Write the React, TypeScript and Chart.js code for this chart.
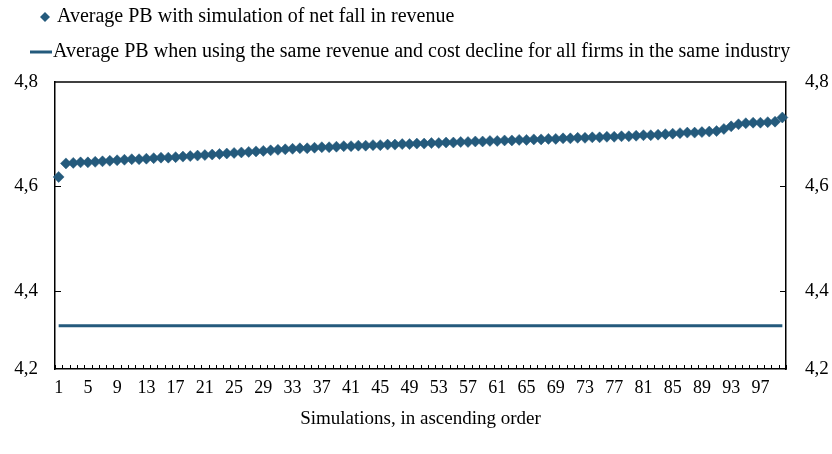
import { useEffect, useRef } from 'react';
import { Chart, registerables } from 'chart.js';

Chart.register(...registerables);

const categories: string[] = Array.from({ length: 100 }, (_, i) => String(i + 1));

const netFallSeries: number[] = [
  4.618, 4.644, 4.645, 4.646, 4.646, 4.647, 4.648, 4.649, 4.650, 4.651,
  4.652, 4.652, 4.653, 4.654, 4.655, 4.655, 4.656, 4.657, 4.658, 4.659,
  4.660, 4.661, 4.662, 4.663, 4.664, 4.665, 4.666, 4.667, 4.668, 4.669,
  4.670, 4.671, 4.672, 4.673, 4.673, 4.674, 4.675, 4.675, 4.676, 4.677,
  4.677, 4.678, 4.678, 4.679, 4.679, 4.680, 4.680, 4.681, 4.681, 4.682,
  4.682, 4.683, 4.683, 4.684, 4.684, 4.685, 4.685, 4.686, 4.686, 4.687,
  4.687, 4.688, 4.688, 4.689, 4.689, 4.690, 4.690, 4.691, 4.691, 4.692,
  4.692, 4.693, 4.693, 4.694, 4.694, 4.695, 4.695, 4.696, 4.696, 4.697,
  4.698, 4.698, 4.699, 4.700, 4.701, 4.702, 4.703, 4.703, 4.704, 4.705,
  4.706, 4.710, 4.715, 4.719, 4.721, 4.722, 4.722, 4.723, 4.724, 4.732,
];

const sameDeclineValue = 4.333;
const sameDeclineSeries: number[] = categories.map(() => sameDeclineValue);

const yTickValues: number[] = [4.25, 4.4, 4.6, 4.8];
const yTickLabels: string[] = ['4,2', '4,4', '4,6', '4,8'];
const yMin = 4.25;
const yMax = 4.8;
const yInnerTickValues: number[] = [4.4, 4.6];

const seriesLabels: string[] = [
  'Average PB with simulation of net fall in revenue',
  'Average PB when using the same revenue and cost decline for all firms in the same industry',
];
const xTitle = 'Simulations, in ascending order';

const SERIES_COLOR = '#245a7c';
const FONT = '"Liberation Serif", "Times New Roman", serif';

const decorPlugin = {
  id: 'decor',
  afterDraw(chart: any) {
    const { ctx, chartArea } = chart;
    const xs = chart.scales.x;
    const ys = chart.scales.y;
    ctx.save();
    // frame top
    ctx.strokeStyle = '#000';
    ctx.lineWidth = 1.5;
    ctx.beginPath();
    ctx.moveTo(chartArea.left, chartArea.top);
    ctx.lineTo(chartArea.right, chartArea.top);
    ctx.stroke();
    // x inner tick marks at category boundaries
    ctx.lineWidth = 1;
    const step = xs.getPixelForValue(1) - xs.getPixelForValue(0);
    for (let i = 0; i <= categories.length; i++) {
      const x = Math.round(xs.getPixelForValue(i) - step / 2) + 0.5;
      ctx.beginPath();
      ctx.moveTo(x, chartArea.bottom);
      ctx.lineTo(x, chartArea.bottom - 4);
      ctx.stroke();
    }
    // y inner tick marks
    for (const v of yInnerTickValues) {
      const y = Math.round(ys.getPixelForValue(v)) + 0.5;
      ctx.beginPath();
      ctx.moveTo(chartArea.left, y);
      ctx.lineTo(chartArea.left + 6, y);
      ctx.moveTo(chartArea.right, y);
      ctx.lineTo(chartArea.right - 6, y);
      ctx.stroke();
    }
    // legend
    ctx.font = `20px ${FONT}`;
    ctx.fillStyle = '#000';
    ctx.textBaseline = 'middle';
    ctx.textAlign = 'left';
    const r1 = 17;
    const r2 = 52;
    ctx.fillStyle = SERIES_COLOR;
    ctx.beginPath();
    ctx.moveTo(45, r1 - 5);
    ctx.lineTo(50, r1);
    ctx.lineTo(45, r1 + 5);
    ctx.lineTo(40, r1);
    ctx.closePath();
    ctx.fill();
    ctx.fillStyle = '#000';
    ctx.fillText(chart.data.datasets[0].label, 57, r1);
    ctx.strokeStyle = SERIES_COLOR;
    ctx.lineWidth = 3;
    ctx.beginPath();
    ctx.moveTo(30, r2);
    ctx.lineTo(52, r2);
    ctx.stroke();
    ctx.fillText(chart.data.datasets[1].label, 53, r2);
    ctx.restore();
  },
};

const yTicks = {
  color: '#000',
  font: { family: FONT, size: 19 },
  callback: (v: number) => {
    const idx = yTickValues.findIndex((t) => Math.abs(t - v) < 1e-9);
    return idx >= 0 ? yTickLabels[idx] : '';
  },
};

export default function App() {
  const ref = useRef<HTMLCanvasElement | null>(null);
  useEffect(() => {
    if (!ref.current) return;
    const chart = new Chart(ref.current, {
      type: 'line',
      data: {
        labels: categories,
        datasets: [
          {
            label: seriesLabels[0],
            data: netFallSeries,
            showLine: false,
            pointStyle: 'rectRot',
            pointRadius: 5.5,
            pointBackgroundColor: SERIES_COLOR,
            pointBorderColor: SERIES_COLOR,
            pointBorderWidth: 0.5,
            borderColor: SERIES_COLOR,
            backgroundColor: SERIES_COLOR,
            yAxisID: 'y',
          },
          {
            label: seriesLabels[1],
            data: sameDeclineSeries,
            borderColor: SERIES_COLOR,
            backgroundColor: SERIES_COLOR,
            borderWidth: 3,
            pointRadius: 0,
            yAxisID: 'y',
          },
        ],
      },
      options: {
        responsive: false,
        animation: false,
        layout: { padding: { top: 82, left: 0, right: 0, bottom: 0 } },
        plugins: {
          legend: { display: false },
          tooltip: { enabled: false },
          title: { display: false },
        },
        scales: {
          x: {
            type: 'category',
            offset: true,
            grid: { display: false, drawTicks: false, offset: true },
            border: { display: true, color: '#000', width: 1.5 },
            ticks: {
              autoSkip: false,
              maxRotation: 0,
              padding: 8,
              color: '#000',
              font: { family: FONT, size: 18 },
              callback: (_v: any, i: number) => (i % 4 === 0 ? categories[i] : ''),
            },
            title: {
              display: true,
              text: xTitle,
              color: '#000',
              font: { family: FONT, size: 19 },
              padding: { top: 0, bottom: 24 },
            },
            afterFit: (s: any) => { s.height = 85; },
          },
          y: {
            type: 'linear',
            position: 'left',
            min: yMin,
            max: yMax,
            grid: { display: false, drawTicks: false },
            border: { display: true, color: '#000', width: 1.5 },
            ticks: { ...yTicks, padding: 17 },
            afterBuildTicks: (s: any) => { s.ticks = yTickValues.map((value) => ({ value })); },
            afterFit: (s: any) => { s.width = 55; },
          },
          y2: {
            type: 'linear',
            position: 'right',
            min: yMin,
            max: yMax,
            grid: { display: false, drawTicks: false },
            border: { display: true, color: '#000', width: 1.5 },
            ticks: { ...yTicks, padding: 19 },
            afterBuildTicks: (s: any) => { s.ticks = yTickValues.map((value) => ({ value })); },
            afterFit: (s: any) => { s.width = 46; },
          },
        },
      },
      plugins: [decorPlugin],
    });
    return () => chart.destroy();
  }, []);
  return (
    <div style={{ position: 'absolute', left: 0, top: 0, width: 832, height: 454, background: '#fff' }}>
      <canvas ref={ref} width={832} height={454} />
    </div>
  );
}
